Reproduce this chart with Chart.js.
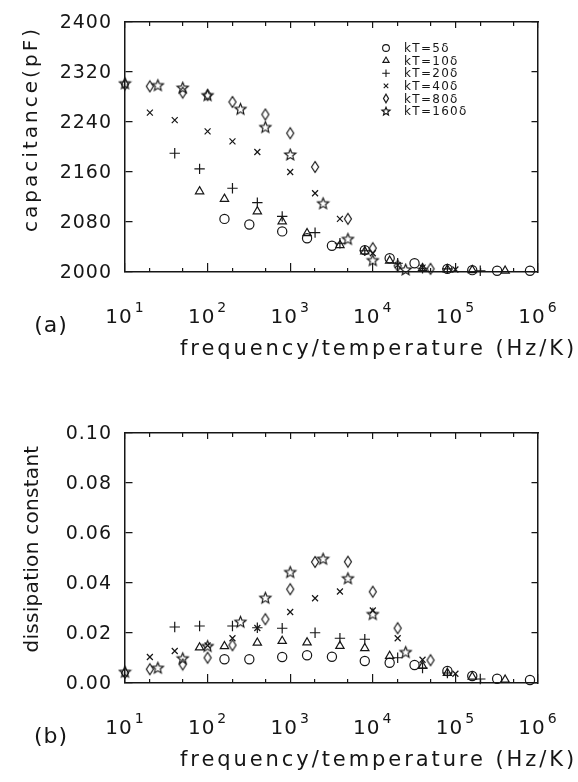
<!DOCTYPE html>
<html>
<head>
<meta charset="utf-8">
<script src="https://cdn.jsdelivr.net/npm/chart.js@4.4.1/dist/chart.umd.min.js"></script>
<style>
  body { margin: 0; background: #fff; }
  canvas { display: block; }
</style>
</head>
<body>
<canvas id="capacitance_chart" width="578" height="391"></canvas>
<canvas id="dissipation_chart" width="578" height="391"></canvas>
<script>
// series: kT = 5, 10, 20, 40, 80, 160 delta
const seriesLabels = ['kT=5δ', 'kT=10δ', 'kT=20δ', 'kT=40δ', 'kT=80δ', 'kT=160δ'];

const freq5   = [160, 320, 800, 1600, 3200, 8000, 16000, 32000, 80000, 160000, 320000, 800000];
const cap5    = [2085, 2076, 2065, 2054, 2042, 2035, 2022, 2014, 2005, 2003, 2002, 2002];
const diss5   = [0.0095, 0.0095, 0.0104, 0.0111, 0.0105, 0.0088, 0.0081, 0.0072, 0.0048, 0.0028, 0.0017, 0.0012];

const freq10  = [80, 160, 400, 800, 1600, 4000, 8000, 16000, 40000, 80000, 160000, 400000];
const cap10   = [2129, 2117, 2097, 2081, 2062, 2043, 2033, 2018, 2006, 2004, 2003, 2002];
const diss10  = [0.0142, 0.0147, 0.0161, 0.0168, 0.0162, 0.0148, 0.0139, 0.0108, 0.0068, 0.0040, 0.0025, 0.0013];

const freq20  = [40, 80, 200, 400, 800, 2000, 4000, 8000, 20000, 40000, 80000, 200000];
const cap20   = [2190, 2165, 2134, 2111, 2089, 2063, 2046, 2034, 2014, 2006, 2005, 2002];
const diss20  = [0.0224, 0.0228, 0.0228, 0.0221, 0.0219, 0.0201, 0.0179, 0.0175, 0.0101, 0.0060, 0.0040, 0.0016];

const freq40  = [20, 40, 100, 200, 400, 1000, 2000, 4000, 10000, 20000, 40000, 100000];
const cap40   = [2255, 2243, 2225, 2209, 2192, 2160, 2126, 2085, 2030, 2011, 2007, 2004];
const diss40  = [0.0104, 0.0128, 0.0150, 0.0179, 0.0220, 0.0284, 0.0339, 0.0366, 0.0290, 0.0179, 0.0093, 0.0037];

const freq80  = [10, 20, 50, 100, 200, 500, 1000, 2000, 5000, 10000, 20000, 50000];
const cap80   = [2300, 2297, 2287, 2283, 2272, 2252, 2222, 2168, 2085, 2038, 2010, 2005];
const diss80  = [0.0040, 0.0055, 0.0074, 0.0101, 0.0151, 0.0255, 0.0375, 0.0484, 0.0485, 0.0365, 0.0219, 0.0091];

const freq160 = [10, 25, 50, 100, 250, 500, 1000, 2500, 5000, 10000, 25000];
const cap160  = [2302, 2299, 2295, 2283, 2261, 2232, 2188, 2110, 2053, 2019, 2004];
const diss160 = [0.0045, 0.0061, 0.0099, 0.0148, 0.0245, 0.0341, 0.0444, 0.0497, 0.0419, 0.0276, 0.0124];

// axis ticks
const xTicks = [10, 100, 1000, 10000, 100000, 1000000];
const xTickBase = '10';
const xTickExp = ['1', '2', '3', '4', '5', '6'];
const xMinorTicks = [20, 50, 200, 500, 2000, 5000, 20000, 50000, 200000, 500000];
const capTicks = [2000, 2080, 2160, 2240, 2320, 2400];
const capTickLabels = ['2000', '2080', '2160', '2240', '2320', '2400'];
const dissTicks = [0, 0.02, 0.04, 0.06, 0.08, 0.10];
const dissTickLabels = ['0.00', '0.02', '0.04', '0.06', '0.08', '0.10'];

const INK = '#161616';
const FONT = '"DejaVu Sans"';

// hollow markers the library doesn't have
function starMarker(R) {
    const s = Math.ceil(R * 2 + 3), c = s / 2;
    const cv = document.createElement('canvas');
    cv.width = s; cv.height = s;
    const g = cv.getContext('2d');
    g.strokeStyle = INK; g.lineWidth = 1.2; g.lineJoin = 'miter';
    g.beginPath();
    for (let i = 0; i < 10; i++) {
        const r = i % 2 ? R * 0.45 : R;
        const a = -Math.PI / 2 + i * Math.PI / 5;
        g.lineTo(c + r * Math.cos(a), c + 0.5 + r * Math.sin(a));
    }
    g.closePath(); g.stroke();
    return cv;
}
function diamondMarker(w, h) {
    const cv = document.createElement('canvas');
    cv.width = w + 3; cv.height = h + 3;
    const g = cv.getContext('2d');
    const cx = cv.width / 2, cy = cv.height / 2;
    g.strokeStyle = INK; g.lineWidth = 1.2;
    g.beginPath();
    g.moveTo(cx, cy - h / 2); g.lineTo(cx + w / 2, cy); g.lineTo(cx, cy + h / 2); g.lineTo(cx - w / 2, cy);
    g.closePath(); g.stroke();
    return cv;
}
const starBig = starMarker(5.8), starSmall = starMarker(4.2);
const diamondBig = diamondMarker(7, 11), diamondSmall = diamondMarker(5, 8.5);

const markers = [
    { style: 'circle', radius: 4.6, legendRadius: 3.4 },
    { style: 'triangle', radius: 4.8, legendRadius: 3.6 },
    { style: 'cross', radius: 5.2, legendRadius: 3.8 },
    { style: 'crossRot', radius: 4.2, legendRadius: 3.2 },
    { style: diamondBig, legend: diamondSmall },
    { style: starBig, legend: starSmall }
];

function points(xs, ys) {
    return xs.map((f, i) => ({ x: f, y: ys[i] }));
}

function makeDatasets(values) {
    const freqs = [freq5, freq10, freq20, freq40, freq80, freq160];
    return values.map((v, i) => ({
        label: seriesLabels[i],
        data: points(freqs[i], v),
        pointStyle: markers[i].style,
        pointRadius: markers[i].radius || 5,
        borderColor: INK,
        backgroundColor: 'rgba(0,0,0,0)',
        pointBorderWidth: 1.2,
        showLine: false,
        clip: false
    }));
}

function spaced(ctx, text, x, y, width) {
    ctx.letterSpacing = '0px';
    const w = ctx.measureText(text).width;
    ctx.letterSpacing = ((width - w) / text.length) + 'px';
    ctx.fillText(text, x, y);
    ctx.letterSpacing = '0px';
}

// texts and legend
const textPlugin = {
    id: 'texts',
    afterDraw(chart, args, o) {
        const { ctx, chartArea: a, scales: { x, y } } = chart;
        ctx.save();
        ctx.fillStyle = INK;

        // y tick labels
        ctx.font = '19px ' + FONT;
        ctx.textAlign = 'right';
        ctx.textBaseline = 'middle';
        ctx.letterSpacing = '1px';
        o.yTicks.forEach((v, i) => ctx.fillText(o.yLabels[i], 112, y.getPixelForValue(v) + 1));

        // x tick labels 10^n
        ctx.textAlign = 'left';
        ctx.textBaseline = 'alphabetic';
        xTicks.forEach((v, i) => {
            const px = x.getPixelForValue(v);
            ctx.font = '20px ' + FONT; ctx.letterSpacing = '1px';
            const w1 = ctx.measureText(xTickBase).width;
            ctx.font = '14px ' + FONT;
            const w2 = ctx.measureText(xTickExp[i]).width;
            const left = px - (w1 + 2 + w2) / 2;
            ctx.font = '20px ' + FONT;
            ctx.fillText(xTickBase, left, a.bottom + 51);
            ctx.font = '14px ' + FONT;
            ctx.fillText(xTickExp[i], left + w1 + 2, a.bottom + 40);
        });
        ctx.letterSpacing = '0px';

        // panel letter
        ctx.font = '22px ' + FONT;
        ctx.textAlign = 'center';
        ctx.textBaseline = 'middle';
        ctx.letterSpacing = '1px';
        ctx.fillText(o.panel, 51, a.bottom + 54);

        // x title
        ctx.font = '21px ' + FONT;
        ctx.textAlign = 'left';
        ctx.textBaseline = 'alphabetic';
        spaced(ctx, 'frequency/temperature (Hz/K)', 180, a.bottom + 83, 397);

        // y title, rotated
        ctx.save();
        ctx.translate(o.yTitleX, o.yTitleY);
        ctx.rotate(-Math.PI / 2);
        ctx.font = '20px ' + FONT;
        ctx.textBaseline = 'middle';
        spaced(ctx, o.yTitle, -o.yTitleW / 2, 0, o.yTitleW);
        ctx.restore();

        // legend (top panel only)
        if (o.legend) {
            ctx.font = '12px ' + FONT;
            ctx.textAlign = 'left';
            ctx.textBaseline = 'middle';
            chart.data.datasets.forEach((ds, i) => {
                const yy = 48 + i * 12.6;
                const m = markers[i];
                if (m.legend) {
                    ctx.drawImage(m.legend, 386 - m.legend.width / 2, yy - m.legend.height / 2);
                } else {
                    ctx.save();
                    ctx.strokeStyle = INK;
                    ctx.fillStyle = 'rgba(0,0,0,0)';
                    ctx.lineWidth = 1.1;
                    Chart.helpers.drawPoint(ctx, { pointStyle: m.style, radius: m.legendRadius, rotation: 0, borderWidth: 1.1 }, 386, yy);
                    ctx.restore();
                }
                ctx.letterSpacing = '1.3px';
                ctx.fillText(ds.label, 404, yy + 1);
            });
        }
        ctx.restore();
    }
};

// the box is the four axis borders; the inward ticks are grid lines
// dashed so only their two ends show
function boxAxis(type, position, min, max) {
    return {
        type, position, min, max,
        ticks: { display: false },
        grid: { display: false, drawTicks: false, tickLength: 0 },
        border: { display: true, color: INK, width: 1.5 }
    };
}

function makeChart(id, values, yMin, yMax, yTicks, plugOpts, pad) {
    return new Chart(document.getElementById(id), {
        type: 'scatter',
        data: { datasets: makeDatasets(values) },
        options: {
            responsive: false,
            animation: false,
            events: [],
            layout: { padding: pad },
            scales: {
                x: {
                    type: 'logarithmic', position: 'bottom', min: 10, max: 1000000,
                    afterBuildTicks: s => { s.ticks = xTicks.concat(xMinorTicks).map(v => ({ value: v })); },
                    ticks: { display: false },
                    grid: { display: true, drawOnChartArea: true, drawTicks: false, tickLength: 0, color: INK, lineWidth: 1.2 },
                    border: {
                        display: true, color: INK, width: 1.5,
                        dash: c => (c.tick && xTicks.includes(c.tick.value)) ? [6, 235, 10, 100] : [4, 242, 5, 100]
                    }
                },
                xTop: boxAxis('logarithmic', 'top', 10, 1000000),
                y: {
                    type: 'linear', position: 'left', min: yMin, max: yMax,
                    afterBuildTicks: s => { s.ticks = yTicks.map(v => ({ value: v })); },
                    ticks: { display: false },
                    grid: { display: true, drawOnChartArea: true, drawTicks: false, tickLength: 0, color: INK, lineWidth: 1.2 },
                    border: { display: true, color: INK, width: 1.5, dash: [7, 399, 10, 100] }
                },
                yRight: boxAxis('linear', 'right', yMin, yMax)
            },
            plugins: {
                legend: { display: false },
                tooltip: { enabled: false },
                texts: plugOpts
            }
        },
        plugins: [textPlugin]
    });
}

makeChart('capacitance_chart',
    [cap5, cap10, cap20, cap40, cap80, cap160], 2000, 2400, capTicks,
    { yTicks: capTicks, yLabels: capTickLabels, panel: '(a)', yTitle: 'capacitance(pF)',
      yTitleX: 32, yTitleY: 129, yTitleW: 206, legend: true },
    { left: 125, right: 40, top: 22, bottom: 119 });

makeChart('dissipation_chart',
    [diss5, diss10, diss20, diss40, diss80, diss160], 0, 0.10, dissTicks,
    { yTicks: dissTicks, yLabels: dissTickLabels, panel: '(b)', yTitle: 'dissipation constant',
      yTitleX: 33, yTitleY: 158, yTitleW: 207, legend: false },
    { left: 125, right: 40, top: 42, bottom: 99 });
</script>
</body>
</html>
